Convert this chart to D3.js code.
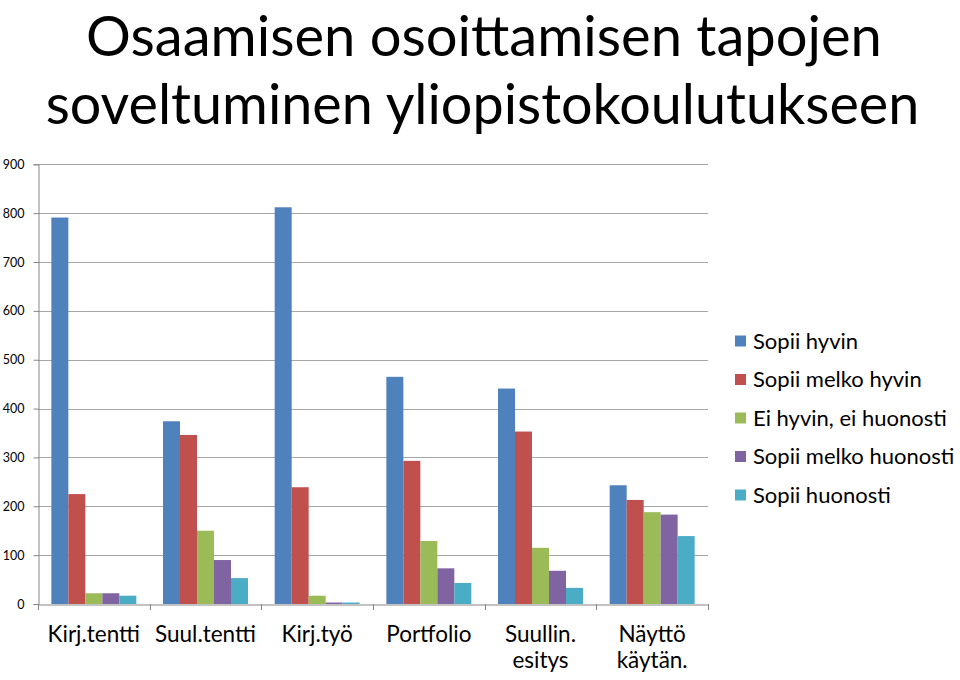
<!DOCTYPE html>
<html><head><meta charset="utf-8">
<script src="https://cdn.jsdelivr.net/npm/d3@7"></script>
<style>body{margin:0;background:#fff}svg{display:block}</style>
</head><body>
<svg id="c" width="960" height="680"></svg>
<script>
const titleLines = ["Osaamisen osoittamisen tapojen", "soveltuminen yliopistokoulutukseen"];
const categories = ["Kirj.tentti", "Suul.tentti", "Kirj.työ", "Portfolio", "Suullin. esitys", "Näyttö käytän."];
const categoryLines = [["Kirj.tentti"], ["Suul.tentti"], ["Kirj.työ"], ["Portfolio"], ["Suullin.", "esitys"], ["Näyttö", "käytän."]];
const seriesNames = ["Sopii hyvin", "Sopii melko hyvin", "Ei hyvin, ei huonosti", "Sopii melko huonosti", "Sopii huonosti"];
const seriesColors = ["#4F81BD", "#C0504D", "#9BBB59", "#8064A2", "#4BACC6"];
const sopiiHyvin        = [791, 374, 812, 465, 441, 243];
const sopiiMelkoHyvin   = [225, 346, 239, 293, 353, 213];
const eiHyvinEiHuonosti = [22, 150, 17, 129, 115, 188];
const sopiiMelkoHuonosti= [22, 90, 3, 73, 68, 183];
const sopiiHuonosti     = [17, 53, 3, 43, 33, 139];
const yTicks = [0, 100, 200, 300, 400, 500, 600, 700, 800, 900];

const seriesValues = [sopiiHyvin, sopiiMelkoHyvin, eiHyvinEiHuonosti, sopiiMelkoHuonosti, sopiiHuonosti];
const font = "Lato, 'Open Sans', sans-serif";
const svg = d3.select("#c");

const plot = {left: 38, right: 708, top: 164.3, bottom: 604};
const y = d3.scaleLinear().domain([0, 900]).range([plot.bottom, plot.top]);
const x0 = d3.scaleBand().domain(categories).range([plot.left, plot.right]).padding(0);
const x1 = d3.scaleBand().domain(seriesNames).range([0, x0.bandwidth()]).paddingInner(0).paddingOuter(0.785);

// title (two lines, font fitted to the reference widths, kept inside the page)
const tTargets = [{cx: 484, w: 796}, {cx: 482.5, w: 874}];
let nextTop = 1;
titleLines.forEach((t, i) => {
  const el = svg.append("text").attr("x", tTargets[i].cx).attr("y", 100)
    .attr("text-anchor", "middle").attr("font-family", font).attr("font-size", 50)
    .attr("fill", "#000").text(t);
  const w = el.node().getComputedTextLength();
  el.attr("font-size", 50 * tTargets[i].w / w);
  const bb = el.node().getBBox();
  const base = 100 + (nextTop - bb.y);
  el.attr("y", base);
  nextTop = nextTop + bb.height + 0.5;
});

// gridlines
svg.append("g").selectAll("line").data(yTicks.filter(d => d > 0)).join("line")
  .attr("x1", plot.left).attr("x2", plot.right)
  .attr("y1", d => Math.round(y(d)) + 0.5).attr("y2", d => Math.round(y(d)) + 0.5)
  .attr("stroke", "#A6A6A6").attr("stroke-width", 1.2);

// y axis
const yAxis = svg.append("g").attr("transform", `translate(${plot.left + 0.5},0)`)
  .call(d3.axisLeft(y).tickValues(yTicks).tickSize(5).tickPadding(9).tickFormat(d3.format("d")));
yAxis.select(".domain").attr("stroke", "#868686");
yAxis.selectAll(".tick line").attr("stroke", "#868686");
yAxis.selectAll("text").attr("font-family", font).attr("font-size", 12.5).attr("fill", "#000");

// bars
const groups = svg.append("g").selectAll("g").data(categories).join("g")
  .attr("transform", d => `translate(${x0(d)},0)`);
groups.selectAll("rect").data((d, ci) => seriesNames.map((s, si) => ({s, si, v: seriesValues[si][ci]})))
  .join("rect")
  .attr("x", d => x1(d.s)).attr("width", x1.bandwidth())
  .attr("y", d => y(d.v)).attr("height", d => y(0) - y(d.v))
  .attr("fill", d => seriesColors[d.si]);

// x axis
const xAxis = svg.append("g").attr("transform", `translate(0,${plot.bottom + 0.5})`)
  .call(d3.axisBottom(x0).tickSize(0).tickFormat(""));
xAxis.select(".domain").attr("stroke", "#868686");
xAxis.selectAll(".tick").remove();
const bounds = [plot.left].concat(categories.map(c => x0(c) + x0.bandwidth()));
svg.append("g").selectAll("line").data(bounds).join("line")
  .attr("x1", d => Math.round(d) + 0.5).attr("x2", d => Math.round(d) + 0.5)
  .attr("y1", plot.bottom).attr("y2", plot.bottom + 6).attr("stroke", "#868686");

// category labels
categories.forEach((c, i) => {
  const t = svg.append("text").attr("x", x0(c) + x0.bandwidth() / 2).attr("y", 642)
    .attr("text-anchor", "middle").attr("font-family", font).attr("font-size", 22.5).attr("fill", "#000");
  categoryLines[i].forEach((ln, j) => t.append("tspan").attr("x", x0(c) + x0.bandwidth() / 2).attr("dy", j ? 26 : 0).text(ln));
});

// legend
const lg = svg.append("g").selectAll("g").data(seriesNames).join("g")
  .attr("transform", (d, i) => `translate(735,${341 + i * 38.5})`);
lg.append("rect").attr("x", 0).attr("y", -5.5).attr("width", 11).attr("height", 11).attr("fill", (d, i) => seriesColors[i]);
lg.append("text").attr("x", 18).attr("y", 7.5).attr("font-family", font).attr("font-size", 22).attr("fill", "#000").text(d => d);
</script>
</body></html>
